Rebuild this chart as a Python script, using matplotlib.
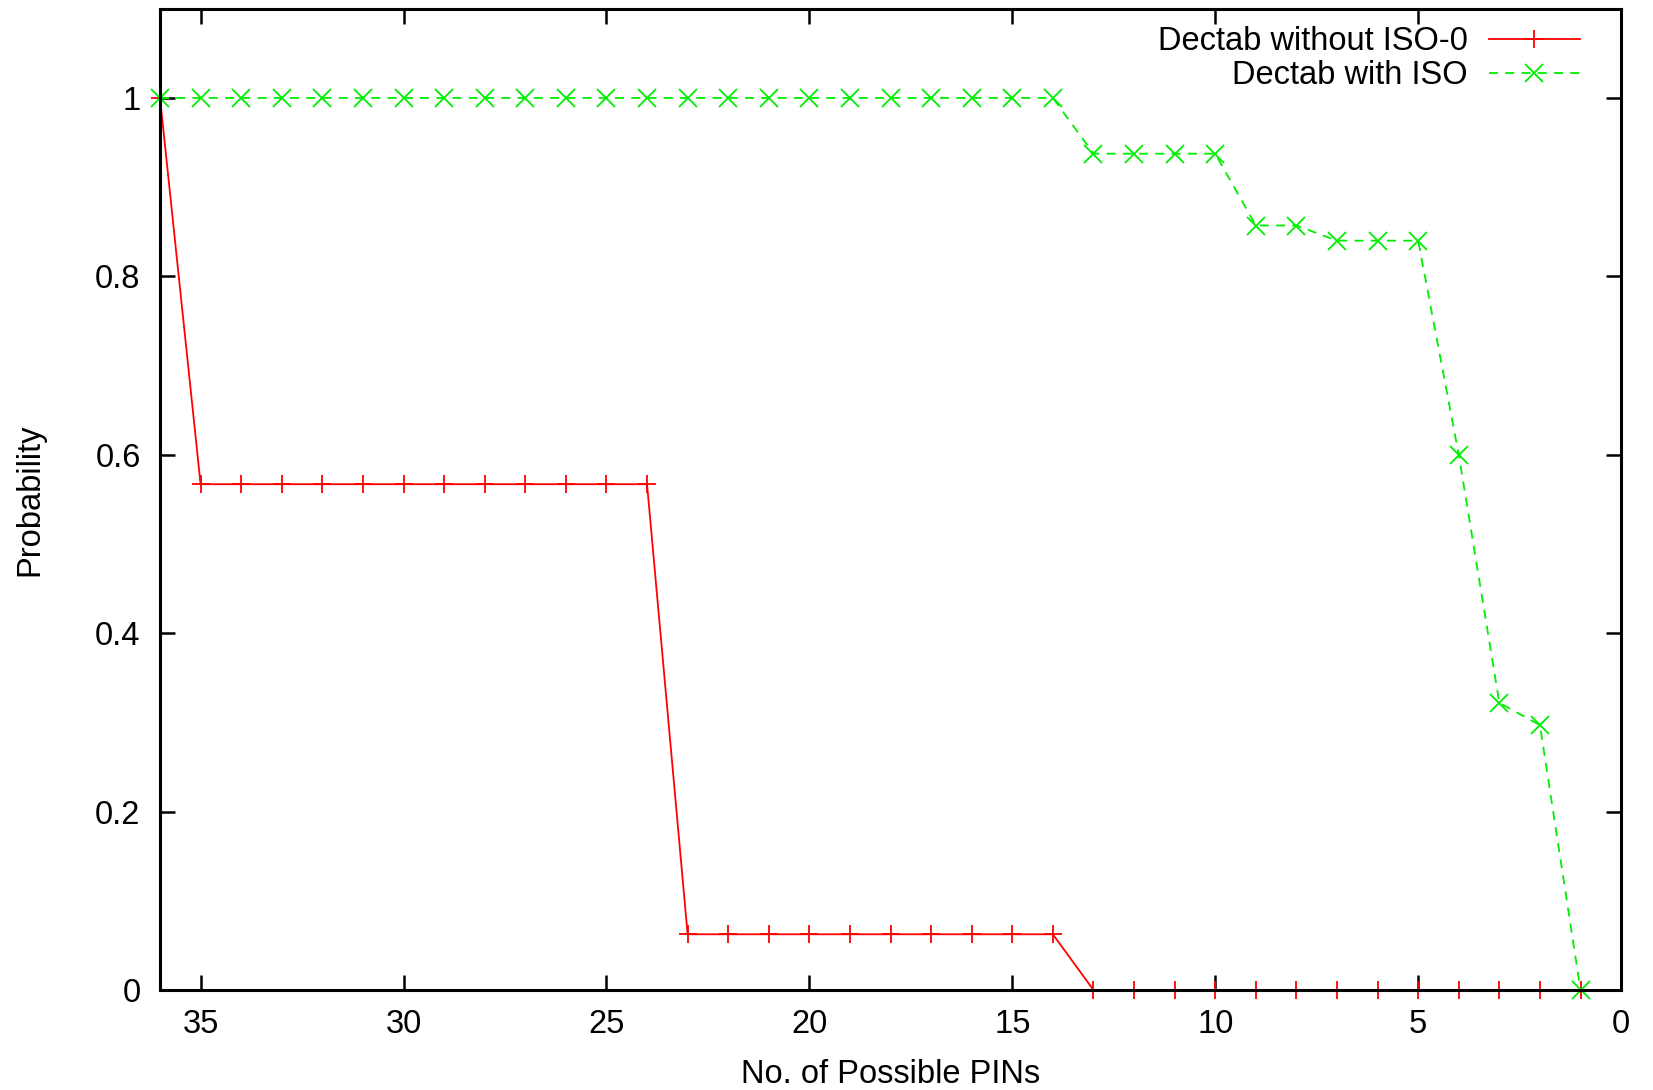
import matplotlib
matplotlib.use("Agg")
import matplotlib.pyplot as plt

plt.rcParams['font.family'] = ['Liberation Sans', 'DejaVu Sans']

# data
pins = [36, 35, 34, 33, 32, 31, 30, 29, 28, 27, 26, 25, 24, 23, 22, 21, 20, 19,
        18, 17, 16, 15, 14, 13, 12, 11, 10, 9, 8, 7, 6, 5, 4, 3, 2, 1]
without_iso = [1.0] + [0.567] * 12 + [0.0625] * 10 + [0.0] * 13
with_iso = [1.0] * 23 + [0.9375] * 4 + [0.857, 0.857] + [0.84, 0.84, 0.84] + [0.6, 0.322, 0.297, 0.0]

xticks = [35, 30, 25, 20, 15, 10, 5, 0]
yticks = [0, 0.2, 0.4, 0.6, 0.8, 1]
ytick_labels = ['0', '0.2', '0.4', '0.6', '0.8', '1']

FS = 23.5

fig = plt.figure(figsize=(16.53, 10.9), dpi=100)
ax = fig.add_axes([0.0968, 0.0917, 0.9807 - 0.0968, 0.992 - 0.0917])

ax.plot(pins, without_iso, '-', color='#ff0000', lw=1.3, marker='+', ms=13, mew=1.3,
        label='Dectab without ISO-0', clip_on=False)
ax.plot(pins, with_iso, '--', color='#00ee00', lw=1.3, dashes=(5, 4), marker='x', ms=13, mew=1.3,
        label='Dectab with ISO', clip_on=False)

ax.set_xlim(36, 0)
ax.set_ylim(0, 1.1)
ax.set_xticks(xticks)
ax.set_yticks(yticks)
ax.set_yticklabels(ytick_labels)
ax.tick_params(direction='in', length=11, width=1.8, top=True, right=True, labelsize=FS, pad=14)
for s in ax.spines.values():
    s.set_linewidth(2.2)

ax.set_xlabel('No. of Possible PINs', fontsize=FS, labelpad=13)
ax.set_ylabel('Probability', fontsize=FS, labelpad=36)

leg = ax.legend(loc='upper right', frameon=False, markerfirst=False, fontsize=FS,
                handlelength=2.8, handletextpad=0.65, labelspacing=0.08,
                bbox_to_anchor=(0.992, 1.012))
for t in leg.get_texts():
    t.set_ha('right')

fig.savefig('out.png', dpi=100)
